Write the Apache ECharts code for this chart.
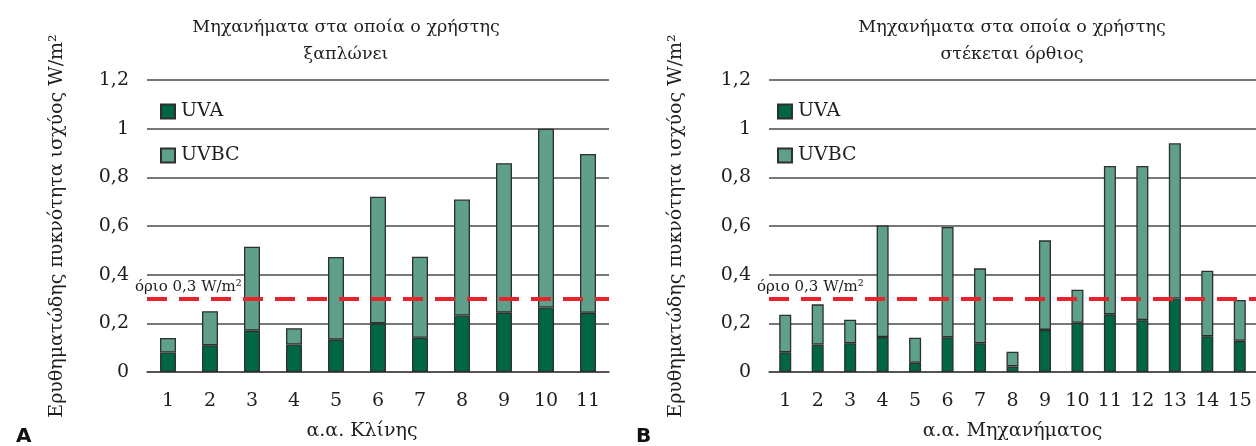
<!DOCTYPE html>
<html>
<head>
<meta charset="utf-8">
<script src="https://cdn.jsdelivr.net/npm/echarts@6/dist/echarts.min.js"></script>
<style>
  html, body { margin: 0; padding: 0; background: #fff; }
  #chart { width: 1256px; height: 446px; }
</style>
</head>
<body>
<div id="chart"></div>
<script>
// panel A: beds (user lies down)
const beds = ['1', '2', '3', '4', '5', '6', '7', '8', '9', '10', '11']
const bedsUVA = [0.08, 0.11, 0.17, 0.113, 0.133, 0.2, 0.141, 0.232, 0.244, 0.265, 0.243]
const bedsUVBC = [0.06, 0.14, 0.345, 0.067, 0.34, 0.52, 0.333, 0.477, 0.614, 0.735, 0.653]

// panel B: machines (user stands upright)
const machines = ['1', '2', '3', '4', '5', '6', '7', '8', '9', '10', '11', '12', '13', '14', '15']
const machinesUVA = [0.081, 0.113, 0.118, 0.144, 0.038, 0.143, 0.118, 0.023, 0.173, 0.202, 0.237, 0.213, 0.302, 0.147, 0.128]
const machinesUVBC = [0.154, 0.165, 0.097, 0.458, 0.103, 0.453, 0.308, 0.06, 0.368, 0.136, 0.61, 0.634, 0.638, 0.269, 0.168]

const limit = 0.3

const serif = 'DejaVu Serif'
const textColor = '#1e1e1e'
const gridColor = '#4a4a4a'
const uvaColor = '#006643'
const uvbcColor = '#5fa08a'
const yName = 'Ερυθηματώδης πυκνότητα ισχύος W/m²'

const chart = echarts.init(document.getElementById('chart'))

const yAxisFor = (gridIndex, gap) => ({
  type: 'value',
  gridIndex: gridIndex,
  min: 0,
  max: 1.2,
  interval: 0.2,
  name: yName,
  nameLocation: 'middle',
  nameRotate: 90,
  nameGap: gap,
  nameTextStyle: { fontFamily: serif, fontSize: 19, color: textColor },
  axisLine: { show: false },
  axisTick: { show: false },
  axisLabel: {
    margin: 18,
    fontFamily: serif,
    fontSize: 19,
    color: textColor,
    formatter: (v) => String(Math.round(v * 10) / 10).replace('.', ',')
  },
  splitLine: { lineStyle: { color: gridColor, width: 1.5 } }
})

const xAxisFor = (gridIndex, cats, name, pad) => ({
  type: 'category',
  gridIndex: gridIndex,
  data: cats,
  name: name,
  nameLocation: 'middle',
  nameGap: 50,
  nameTextStyle: { fontFamily: serif, fontSize: 19, color: textColor, padding: pad },
  axisLine: { lineStyle: { color: gridColor, width: 1.5 } },
  axisTick: { show: false },
  axisLabel: { interval: 0, margin: 20, fontFamily: serif, fontSize: 19, color: textColor }
})

const limitLine = {
  symbol: 'none',
  silent: true,
  lineStyle: { color: '#e8232a', width: 4, type: [20, 12] },
  label: {
    position: 'insideStartTop',
    formatter: 'όριο 0,3 W/m²',
    fontFamily: serif,
    fontSize: 15,
    color: textColor,
    distance: 4,
    offset: [-16, 0]
  },
  data: [{ yAxis: limit }]
}

const barSeries = (name, data, idx, color, width, extra) => Object.assign({
  name: name,
  type: 'bar',
  stack: 'total' + idx,
  xAxisIndex: idx,
  yAxisIndex: idx,
  barWidth: width,
  data: data,
  itemStyle: { color: color, borderColor: '#2e2e2e', borderWidth: 1.3 }
}, extra || {})

const legendFor = (left) => ({
  left: left,
  top: 102,
  orient: 'vertical',
  itemWidth: 14,
  itemHeight: 14,
  itemGap: 25,
  icon: 'rect',
  padding: 0,
  textStyle: { fontFamily: serif, fontSize: 19, color: textColor, padding: [0, 0, 0, 1] },
  data: ['UVA', 'UVBC']
})

const option = {
  backgroundColor: '#fff',
  animation: false,
  title: [
    {
      text: 'Μηχανήματα στα οποία ο χρήστης\nξαπλώνει',
      left: 346, top: 14, padding: 0, textAlign: 'center',
      textStyle: { fontFamily: serif, fontSize: 17.5, fontWeight: 'normal', color: textColor, lineHeight: 27 }
    },
    {
      text: 'Μηχανήματα στα οποία ο χρήστης\nστέκεται όρθιος',
      left: 1012, top: 14, padding: 0, textAlign: 'center',
      textStyle: { fontFamily: serif, fontSize: 17.5, fontWeight: 'normal', color: textColor, lineHeight: 27 }
    },
    {
      text: 'A', left: 16, top: 427, padding: 0,
      textStyle: { fontFamily: 'DejaVu Sans', fontSize: 20, fontWeight: 'bold', color: '#111' }
    },
    {
      text: 'B', left: 636, top: 427, padding: 0,
      textStyle: { fontFamily: 'DejaVu Sans', fontSize: 20, fontWeight: 'bold', color: '#111' }
    }
  ],
  legend: [legendFor(160), legendFor(777)],
  grid: [
    { left: 147, top: 80, width: 462, height: 292.5 },
    { left: 769, top: 80, width: 488, height: 292.5 }
  ],
  xAxis: [
    xAxisFor(0, beds, 'α.α. Κλίνης', [0, 32, 0, 0]),
    xAxisFor(1, machines, 'α.α. Μηχανήματος', [0, 0, 0, 0])
  ],
  yAxis: [yAxisFor(0, 80), yAxisFor(1, 83)],
  series: [
    barSeries('UVA', bedsUVA, 0, uvaColor, '38%'),
    barSeries('UVBC', bedsUVBC, 0, uvbcColor, '38%', { markLine: limitLine }),
    barSeries('UVA', machinesUVA, 1, uvaColor, '37%'),
    barSeries('UVBC', machinesUVBC, 1, uvbcColor, '37%', { markLine: limitLine })
  ]
}

chart.setOption(option)
window.addEventListener('resize', () => chart.resize())
</script>
</body>
</html>
